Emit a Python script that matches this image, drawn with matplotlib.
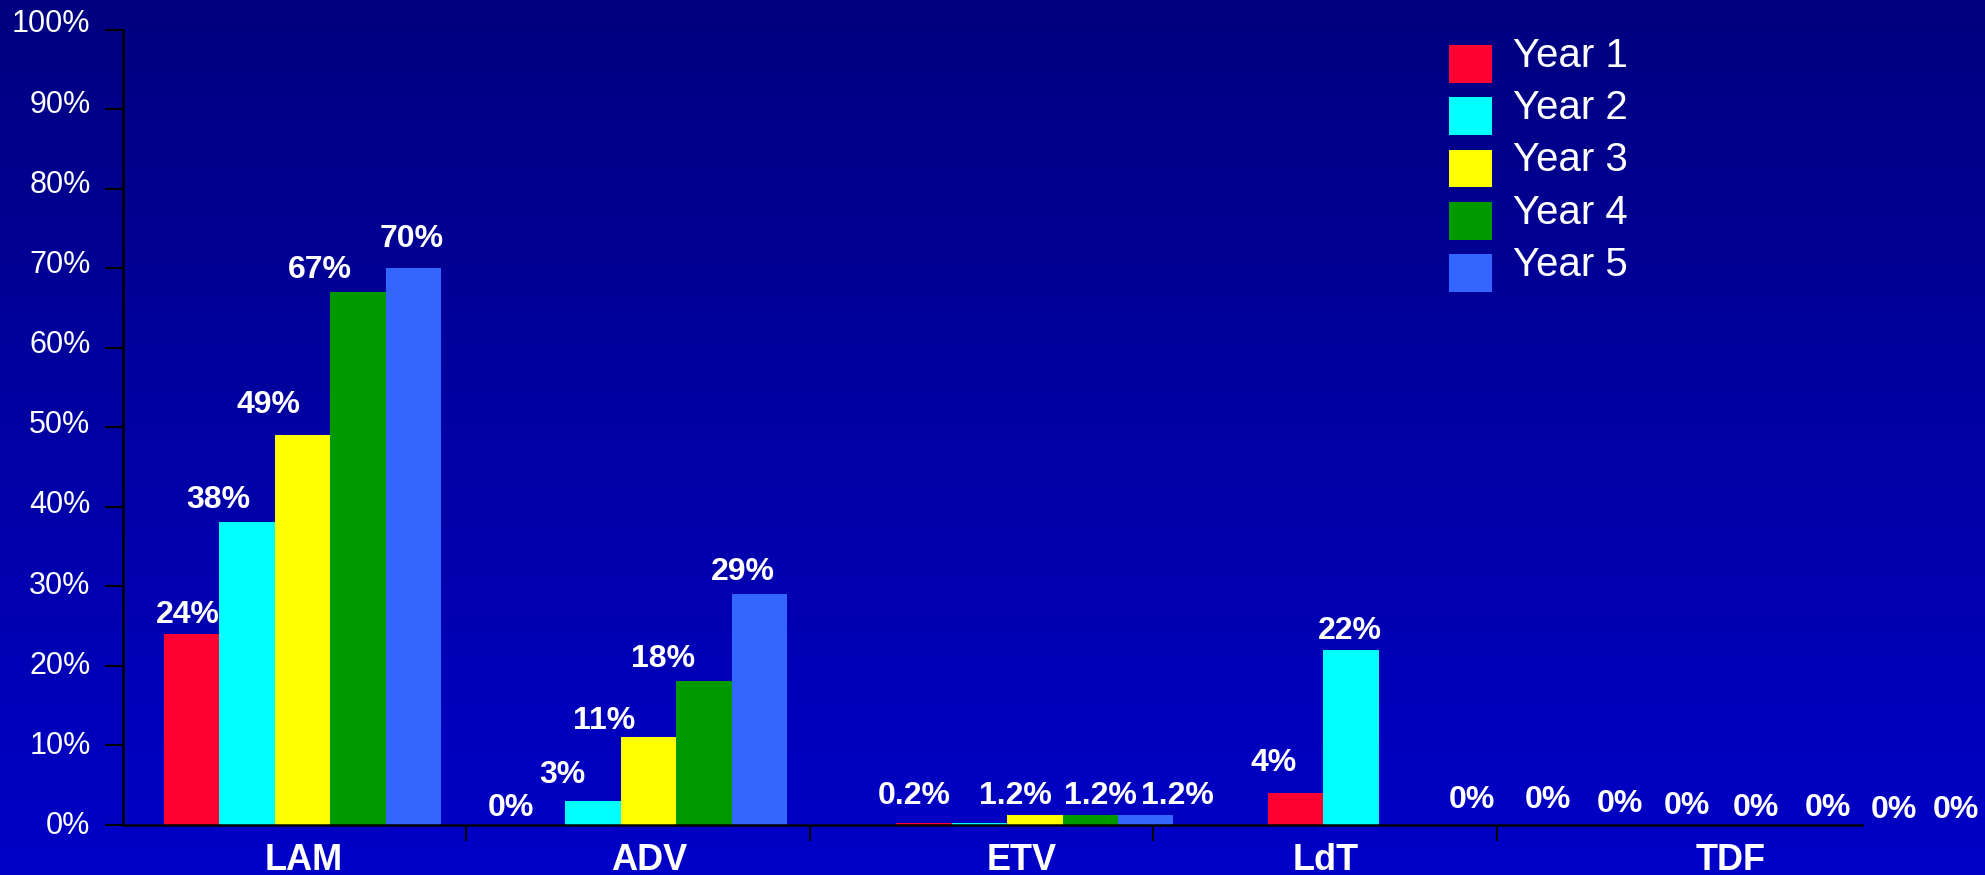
import numpy as np
import matplotlib
matplotlib.use("Agg")
import matplotlib.pyplot as plt
from matplotlib.colors import LinearSegmentedColormap
from matplotlib.patches import Rectangle
from matplotlib.transforms import ScaledTranslation

plt.rcParams["font.family"] = ["Liberation Sans", "DejaVu Sans"]

categories = ["LAM", "ADV", "ETV", "LdT", "TDF"]
years = ["Year 1", "Year 2", "Year 3", "Year 4", "Year 5"]

# share (%) per category for each year
year1 = [24, 0, 0.2, 4, 0]
year2 = [38, 3, 0.2, 22, 0]
year3 = [49, 11, 1.2, 0, 0]
year4 = [67, 18, 1.2, 0, 0]
year5 = [70, 29, 1.2, 0, 0]
series = [year1, year2, year3, year4, year5]
label_fmt = ["{:.0f}%", "{:.0f}%", "{:.1f}%", "{:.0f}%", "{:.0f}%"]

colors = ["#FF0033", "#00FFFF", "#FFFF00", "#009900", "#3366FF"]

# bar layout inside each category slot (category units)
bar_w = 0.1613
group_start = [0.121, 0.128, 0.253, 0.334, 0.408]

# value label nudges in pixels, [category][year]; None = no label
label_dx = [
    [-4, -29, -34, -38, -2],
    [-27, -31, -44, -41, -16],
    [-10, None, -19, 10, 32],
    [-22, -1, 66, 86, 103],
    [23, 36, 53, 63, 70],
]
label_gap = [
    [11, 14, 22, 14, 21],
    [9, 18, 8, 14, 14],
    [19, 0, 11, 11, 11],
    [22, 11, 17, 16, 13],
    [11, 9, 8, 6, 6],
]
cat_dx = [9, 11, 40, 1, 62]

W, H = 1985, 875
fig = plt.figure(figsize=(W / 100, H / 100), dpi=100)

# dark blue vertical gradient behind everything
bg = fig.add_axes([0, 0, 1, 1], zorder=-10)
cmap = LinearSegmentedColormap.from_list("bg", ["#000080", "#0000C8"])
bg.imshow(np.linspace(0, 1, 256).reshape(-1, 1), aspect="auto", cmap=cmap,
          extent=[0, 1, 0, 1], origin="upper")
bg.axis("off")

ax = fig.add_axes([122.5 / W, 1 - 824.5 / H, 1739.5 / W, 795 / H])
ax.set_facecolor("none")
ax.set_xlim(0, 1739.5 / 343.5)
ax.set_ylim(0, 100)

for j, (vals, col) in enumerate(zip(series, colors)):
    xs = [i + group_start[i] + j * bar_w for i in range(len(categories))]
    ax.bar(xs, vals, width=bar_w, align="edge", color=col, linewidth=0, zorder=2)
    for i, v in enumerate(vals):
        if label_dx[i][j] is None:
            continue
        ax.annotate(label_fmt[i].format(v), xy=(xs[i] + bar_w / 2, v),
                    xytext=(label_dx[i][j], label_gap[i][j]), textcoords="offset pixels",
                    ha="center", va="baseline", color="white", fontsize=23,
                    fontweight="bold", annotation_clip=False)

# category names under the axis
for i, name in enumerate(categories):
    ax.annotate(name, xy=(i + 0.5, 0), xytext=(cat_dx[i], -46), textcoords="offset pixels",
                ha="center", va="baseline", color="white", fontsize=26,
                fontweight="bold", annotation_clip=False)

for side in ["top", "right"]:
    ax.spines[side].set_visible(False)
for side in ["left", "bottom"]:
    ax.spines[side].set_color("black")
    ax.spines[side].set_linewidth(1.8)
    ax.spines[side].set_zorder(3)

ax.set_xticks([1, 2, 3, 4])
ax.set_xticklabels([])
ax.tick_params(axis="x", direction="out", length=11.5, width=1.5, color="black")

yt = list(range(0, 101, 10))
ax.set_yticks(yt)
ax.set_yticklabels([f"{v}%" for v in yt])
ax.tick_params(axis="y", direction="out", length=13, width=1.5, color="black",
               labelcolor="white", labelsize=22, pad=10)
for k, lab in enumerate(ax.get_yticklabels()):
    lab.set_transform(lab.get_transform()
                      + ScaledTranslation(0, (2 + 0.65 * k) / 100, fig.dpi_scale_trans))

# legend drawn as swatches plus text
for j, (name, col) in enumerate(zip(years, colors)):
    top = 45 + 52.3 * j
    fig.patches.append(Rectangle((1449 / W, 1 - (top + 37.7) / H), 43 / W, 37.7 / H,
                                 transform=fig.transFigure, facecolor=col, linewidth=0))
    fig.text(1513 / W, 1 - (66.7 + 52.3 * j) / H, name, color="white",
             fontsize=29, va="baseline")

fig.savefig("out.png", dpi=100)
